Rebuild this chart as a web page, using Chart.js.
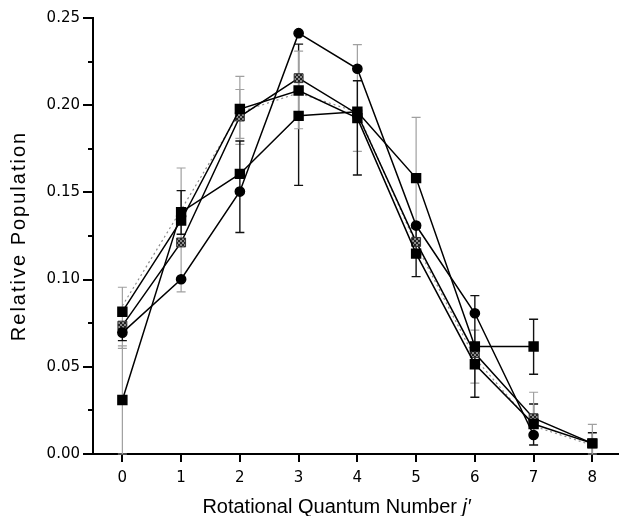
<!DOCTYPE html>
<html><head><meta charset="utf-8">
<script src="https://cdn.jsdelivr.net/npm/chart.js@4/dist/chart.umd.min.js"></script>
<style>html,body{margin:0;padding:0;background:#fff}#wrap{width:626px;height:516px}</style>
</head><body><div id="wrap"><canvas id="c" width="626" height="516"></canvas></div>
<script>
// ---- data ----
const jValues       = [0, 1, 2, 3, 4, 5, 6, 7, 8];
const circleSeries  = [0.0696, 0.1002, 0.1505, 0.2413, 0.2209, 0.1310, 0.0807, 0.0109, null];
const squareSeriesA = [0.0816, 0.1339, 0.1978, 0.2084, 0.1926, 0.1149, 0.0515, 0.0172, 0.0061];
const squareSeriesB = [0.0310, 0.1387, 0.1606, 0.1939, 0.1962, 0.1582, 0.0616, 0.0616, null];
const hatchedSeries = [0.0736, 0.1213, 0.1935, 0.2155, 0.1950, 0.1216, 0.0578, 0.0205, 0.0061];
const dottedSeries  = [0.0850, 0.1400, 0.1960, 0.2070, 0.1960, 0.1200, 0.0550, 0.0160, 0.0050];

// error bars (j, low, high, tone)
const errJ    = [0,      0,      0,     1,     1,     2,      2,      2,      3,     3,      4,      4,      5,      5,      6,      6,      7,      7,      7,     8,     8];
const errLow  = [0.0606, 0.0650, 0.000, 0.093, 0.126, 0.1775, 0.1270, 0.181,  0.154, 0.1865, 0.1735, 0.160,  0.1235, 0.1017, 0.0406, 0.0325, 0.0457, 0.0052, 0.010, 0.000, 0.000];
const errHigh = [0.0956, 0.0740, 0.062, 0.164, 0.151, 0.2165, 0.1795, 0.209,  0.235, 0.231,  0.2347, 0.214,  0.193,  0.1295, 0.0710, 0.0908, 0.0773, 0.0287, 0.0354, 0.0122, 0.017];
const errTone = ['gray','black','gray','gray','black','gray','black','gray','black','gray','gray','black','gray','black','gray','black','black','black','gray','black','gray'];

const xTickValues      = [0, 1, 2, 3, 4, 5, 6, 7, 8];
const yTickValues      = [0, 0.05, 0.10, 0.15, 0.20, 0.25];
const yMinorTickValues = [0.025, 0.075, 0.125, 0.175, 0.225];
const xTitleMain = 'Rotational Quantum Number ';
const xTitleItalic = 'j\u2032';
const yTitle = 'Relative Population';

// ---- helpers ----
const pts = arr => jValues.map((j, i) => ({x: j, y: arr[i]}));

function hatchPattern() {
  const c = document.createElement('canvas');
  c.width = 4; c.height = 4;
  const g = c.getContext('2d');
  g.fillStyle = '#222'; g.fillRect(0, 0, 4, 4);
  g.fillStyle = '#8a8a8a'; g.fillRect(0, 0, 2, 2); g.fillRect(2, 2, 2, 2);
  return g.createPattern(c, 'repeat');
}

const errorBars = {
  id: 'errorBars',
  beforeDatasetsDraw(chart) {
    const {ctx, scales: {x, y}} = chart;
    ctx.save();
    for (let i = 0; i < errJ.length; i++) {
      const px = x.getPixelForValue(errJ[i]);
      const lo = y.getPixelForValue(errLow[i]);
      const hi = y.getPixelForValue(errHigh[i]);
      const gray = errTone[i] === 'gray';
      ctx.strokeStyle = gray ? '#a0a0a0' : '#111';
      ctx.lineWidth = gray ? 1.2 : 1.4;
      ctx.beginPath();
      ctx.moveTo(px, lo); ctx.lineTo(px, hi);
      ctx.moveTo(px - 4.5, hi); ctx.lineTo(px + 4.5, hi);
      ctx.moveTo(px - 4.5, lo); ctx.lineTo(px + 4.5, lo);
      ctx.stroke();
    }
    ctx.restore();
  }
};

const extras = {
  id: 'extras',
  afterDraw(chart) {
    const {ctx, scales: {x, y}, chartArea} = chart;
    ctx.save();
    // minor ticks on the y axis
    ctx.strokeStyle = '#000'; ctx.lineWidth = 2;
    ctx.beginPath();
    yMinorTickValues.forEach(v => {
      const py = Math.round(y.getPixelForValue(v)) ;
      ctx.moveTo(chartArea.left - 5, py); ctx.lineTo(chartArea.left, py);
    });
    ctx.stroke();
    // x axis title with italic j'
    ctx.fillStyle = '#000';
    ctx.textBaseline = 'alphabetic';
    const fMain = '20px "Liberation Sans", Arial, sans-serif';
    const fIt = 'italic 20px "Liberation Sans", Arial, sans-serif';
    ctx.font = fMain; const w1 = ctx.measureText(xTitleMain).width;
    ctx.font = fIt; const w2 = ctx.measureText(xTitleItalic).width;
    const cx = chartArea.left + (chartArea.right - chartArea.left) * 0.4637;
    const start = cx - (w1 + w2) / 2;
    const by = 513;
    ctx.font = fMain; ctx.textAlign = 'left';
    ctx.fillText(xTitleMain, start, by);
    ctx.font = fIt;
    ctx.fillText(xTitleItalic, start + w1, by);
    // y axis title (rotated, slightly letter-spaced as in the scan)
    ctx.save();
    ctx.translate(19, (chartArea.top + chartArea.bottom) / 2);
    ctx.rotate(-Math.PI / 2);
    ctx.font = '20px "Liberation Sans", Arial, sans-serif';
    if ('letterSpacing' in ctx) ctx.letterSpacing = '2px';
    ctx.textAlign = 'center';
    ctx.textBaseline = 'middle';
    ctx.fillText(yTitle, 0, 0);
    ctx.restore();
    ctx.restore();
  }
};

const lineBlack = {borderColor: '#000', borderWidth: 1.5, pointBorderColor: '#000', tension: 0, fill: false};

new Chart(document.getElementById('c'), {
  type: 'line',
  data: {
    datasets: [
      Object.assign({label: 'circles', data: pts(circleSeries), pointStyle: 'circle', pointRadius: 4.6,
        pointBackgroundColor: '#000'}, lineBlack),
      Object.assign({label: 'squares A', data: pts(squareSeriesA), pointStyle: 'rect', pointRadius: 6.3,
        pointBackgroundColor: '#000'}, lineBlack),
      Object.assign({label: 'squares B', data: pts(squareSeriesB), pointStyle: 'rect', pointRadius: 6.3,
        pointBackgroundColor: '#000'}, lineBlack),
      Object.assign({label: 'hatched', data: pts(hatchedSeries), pointStyle: 'rect', pointRadius: 6.3,
        pointBackgroundColor: hatchPattern()}, lineBlack, {pointBorderColor: '#333', pointBorderWidth: 1}),
      {label: 'dotted', data: pts(dottedSeries), borderColor: '#8c8c8c', borderWidth: 1.2,
        borderDash: [2, 3], pointRadius: 0, tension: 0, fill: false}
    ]
  },
  options: {
    responsive: false,
    animation: false,
    devicePixelRatio: 1,
    layout: {padding: {top: 18, right: 0, bottom: 0, left: 0}},
    plugins: {legend: {display: false}, tooltip: {enabled: false}},
    elements: {point: {borderWidth: 1}},
    scales: {
      x: {
        type: 'linear', min: -0.5, max: 8.44,
        afterFit: s => { s.height = 62; },
        afterBuildTicks: s => { s.ticks = xTickValues.map(v => ({value: v})); },
        border: {display: true, color: '#000', width: 2},
        grid: {display: true, drawOnChartArea: false, drawTicks: true, tickLength: 8, color: '#000', lineWidth: 2},
        ticks: {color: '#000', padding: 7, maxRotation: 0, autoSkip: false,
          font: {family: '"DejaVu Sans", sans-serif', size: 15},
          callback: v => String(v)}
      },
      y: {
        type: 'linear', min: 0, max: 0.25,
        afterFit: s => { s.width = 93; },
        afterBuildTicks: s => { s.ticks = yTickValues.map(v => ({value: v})); },
        border: {display: true, color: '#000', width: 2},
        grid: {display: true, drawOnChartArea: false, drawTicks: true, tickLength: 10, color: '#000', lineWidth: 2},
        ticks: {color: '#000', padding: 3,
          font: {family: '"DejaVu Sans", sans-serif', size: 15},
          callback: v => v.toFixed(2)},
        title: {display: false}
      }
    }
  },
  plugins: [errorBars, extras]
});
</script>
</body></html>
